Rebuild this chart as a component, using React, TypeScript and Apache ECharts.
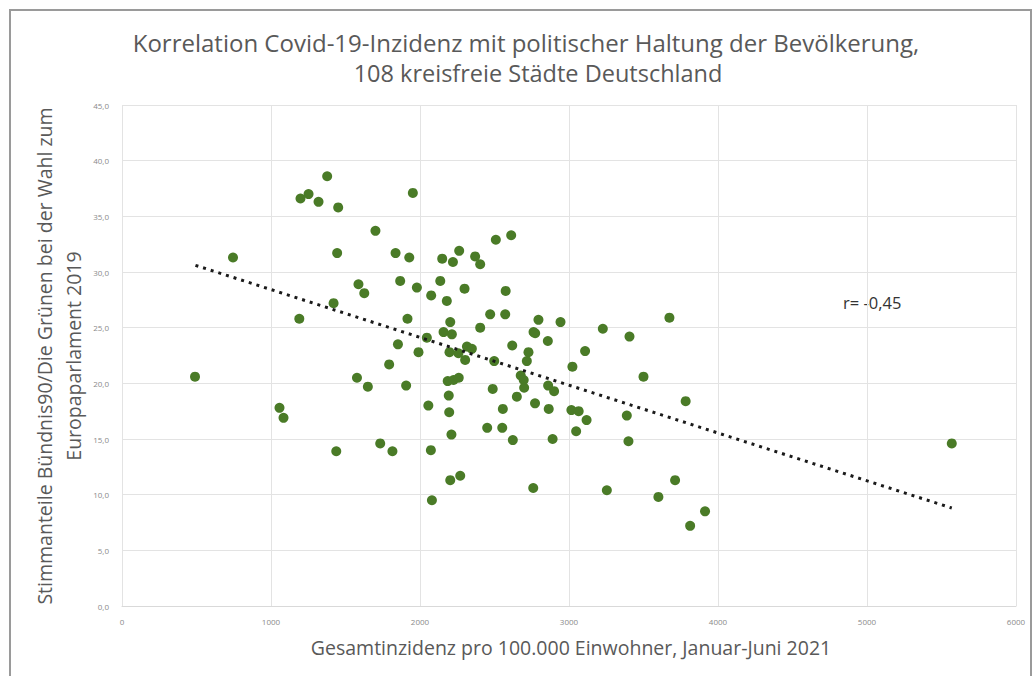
import React, { useEffect, useRef } from "react";
import * as echarts from "echarts";

// Gesamtinzidenz pro 100.000 Einwohner (x) and Grünen-Stimmanteil in % (y)
const incidence: number[] = [
  490, 745, 1057, 1084, 1190, 1198, 1252, 1319, 1377, 1451,
  1444, 1420, 1438, 1577, 1587, 1626, 1650, 1701, 1733, 1793,
  1815, 1836, 1852, 1867, 1952, 1928, 2149, 2221, 2263, 2370,
  2404, 2509, 2612, 1979, 2136, 2299, 2575, 2075, 2180, 1916,
  2203, 2158, 2214, 2046, 1990, 2198, 2258, 2315, 2348, 2303,
  2404, 2471, 2572, 2498, 2619, 2728, 2717, 2795, 2762, 2773,
  2858, 2943, 3227, 3406, 3674, 3108, 3023, 2676, 2696, 2699,
  2860, 2900, 2650, 2772, 2864, 3016, 3065, 3118, 3048, 3500,
  3783, 3388, 3399, 2890, 2623, 2552, 2451, 2556, 2488, 2193,
  2196, 2211, 2056, 1907, 2186, 2225, 2260, 2073, 2203, 2270,
  2760, 2080, 3254, 3600, 3712, 3813, 3913, 5569,
];
const greenShare: number[] = [
  20.6, 31.3, 17.8, 16.9, 25.8, 36.6, 37.0, 36.3, 38.6, 35.8,
  31.7, 27.2, 13.9, 20.5, 28.9, 28.1, 19.7, 33.7, 14.6, 21.7,
  13.9, 31.7, 23.5, 29.2, 37.1, 31.3, 31.2, 30.9, 31.9, 31.4,
  30.7, 32.9, 33.3, 28.6, 29.2, 28.5, 28.3, 27.9, 27.4, 25.8,
  25.5, 24.6, 24.4, 24.1, 22.8, 22.8, 22.7, 23.3, 23.1, 22.1,
  25.0, 26.2, 26.2, 22.0, 23.4, 22.8, 22.0, 25.7, 24.6, 24.5,
  23.8, 25.5, 24.9, 24.2, 25.9, 22.9, 21.5, 20.7, 20.3, 19.6,
  19.8, 19.3, 18.8, 18.2, 17.7, 17.6, 17.5, 16.7, 15.7, 20.6,
  18.4, 17.1, 14.8, 15.0, 14.9, 16.0, 16.0, 17.7, 19.5, 18.9,
  17.4, 15.4, 18.0, 19.8, 20.2, 20.3, 20.5, 14.0, 11.3, 11.7,
  10.6, 9.5, 10.4, 9.8, 11.3, 7.2, 8.5, 14.6,
];

// Trend line end points
const trendX: number[] = [493, 5569];
const trendY: number[] = [30.6, 8.8];

const xTicks = { min: 0, max: 6000, interval: 1000 };
const yTicks = { min: 0, max: 45, interval: 5 };

const titleLines = [
  "Korrelation Covid-19-Inzidenz mit politischer Haltung der Bevölkerung,",
  "108 kreisfreie Städte Deutschland",
];
const yNameLines = [
  "Stimmanteile Bündnis90/Die Grünen bei der Wahl zum",
  "Europaparlament 2019",
];
const xName = "Gesamtinzidenz pro 100.000 Einwohner, Januar-Juni 2021";
const rLabel = "r= -0,45";

const FONT = "'Open Sans', 'Noto Sans', sans-serif";

export default function App() {
  const ref = useRef<HTMLDivElement>(null);

  useEffect(() => {
    document.body.style.margin = "0";
    if (!ref.current) return;
    const chart = echarts.init(ref.current, null, { renderer: "svg" });
    const points = incidence.map((x, i) => [x, greenShare[i]]);
    const trend = trendX.map((x, i) => [x, trendY[i]]);
    const gridColor = "#e3e3e3";
    const textStyleBase = {
      fontFamily: FONT,
      fill: "#595959",
      align: "center",
      verticalAlign: "middle",
    };
    chart.setOption({
      animation: false,
      backgroundColor: "#ffffff",
      textStyle: { fontFamily: FONT },
      grid: { left: 122, right: 19, top: 105, bottom: 70 },
      xAxis: {
        type: "value",
        min: xTicks.min,
        max: xTicks.max,
        interval: xTicks.interval,
        axisLine: { show: true, lineStyle: { color: "#d9d9d9" } },
        axisTick: { show: false },
        splitLine: { show: true, lineStyle: { color: gridColor } },
        axisLabel: {
          color: "#8a8a8a",
          fontSize: 8,
          margin: 11,
          fontFamily: FONT,
          formatter: (v: number) => String(Math.round(v)),
        },
      },
      yAxis: {
        type: "value",
        min: yTicks.min,
        max: yTicks.max,
        interval: yTicks.interval,
        axisLine: { show: false },
        axisTick: { show: false },
        splitLine: { show: true, lineStyle: { color: gridColor } },
        axisLabel: {
          color: "#8a8a8a",
          fontSize: 8,
          margin: 13,
          fontFamily: FONT,
          formatter: (v: number) => v.toFixed(1).replace(".", ","),
        },
      },
      series: [
        {
          type: "scatter",
          data: points,
          symbol: "circle",
          symbolSize: 10,
          itemStyle: { color: "#4a7b27", opacity: 1 },
          z: 3,
        },
        {
          type: "line",
          data: trend,
          symbol: "none",
          lineStyle: { color: "#1a1a1a", width: 3, type: [3, 5] },
          z: 4,
        },
      ],
      graphic: [
        {
          type: "rect",
          shape: { x: 10, y: 10, width: 1021, height: 700 },
          style: { fill: "none", stroke: "#9a9a9a", lineWidth: 2 },
          silent: true,
        },
        {
          type: "text",
          x: 526,
          y: 42,
          style: { ...textStyleBase, text: titleLines[0], fontSize: 24 },
        },
        {
          type: "text",
          x: 538,
          y: 73,
          style: { ...textStyleBase, text: titleLines[1], fontSize: 23.5 },
        },
        {
          type: "text",
          x: 44,
          y: 356,
          rotation: Math.PI / 2,
          style: { ...textStyleBase, text: yNameLines[0], fontSize: 19.5 },
        },
        {
          type: "text",
          x: 73,
          y: 356,
          rotation: Math.PI / 2,
          style: { ...textStyleBase, text: yNameLines[1], fontSize: 19.5 },
        },
        {
          type: "text",
          x: 571,
          y: 647,
          style: { ...textStyleBase, text: xName, fontSize: 19.5 },
        },
        {
          type: "text",
          x: 843,
          y: 302,
          style: {
            text: rLabel,
            fontSize: 16.5,
            fontFamily: FONT,
            fill: "#333333",
            align: "left",
            verticalAlign: "middle",
          },
        },
      ],
    });
    return () => chart.dispose();
  }, []);

  return (
    <div
      ref={ref}
      style={{ position: "absolute", left: 0, top: 0, width: 1035, height: 676 }}
    />
  );
}
